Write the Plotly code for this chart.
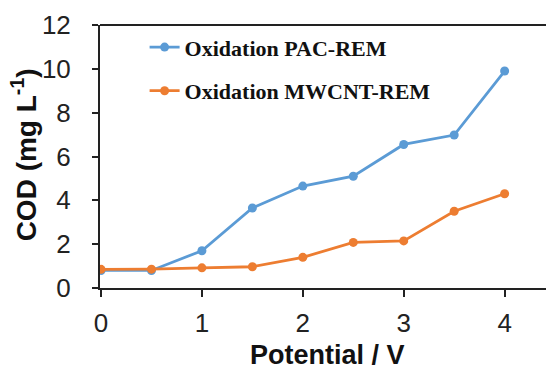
import plotly.graph_objects as go

potential = [0, 0.5, 1, 1.5, 2, 2.5, 3, 3.5, 4]
cod_pac = [0.8, 0.8, 1.7, 3.65, 4.65, 5.1, 6.55, 6.98, 9.9]
cod_mwcnt = [0.85, 0.86, 0.92, 0.97, 1.4, 2.08, 2.15, 3.5, 4.3]
names = ["Oxidation PAC-REM", "Oxidation MWCNT-REM"]
colors = ["#5B9BD5", "#ED7D31"]
x_ticks = [0, 1, 2, 3, 4]
y_ticks = [0, 2, 4, 6, 8, 10, 12]

fig = go.Figure()
for i, (ys, nm, c) in enumerate([(cod_pac, names[0], colors[0]), (cod_mwcnt, names[1], colors[1])]):
    fig.add_trace(go.Scatter(
        x=potential, y=ys, name=nm, mode="lines+markers",
        line=dict(color=c, width=2.8), marker=dict(color=c, size=9),
        legendgroup=f"g{i}",
    ))

axis_col = "#222222"
tick_font = dict(family="Liberation Sans", size=26, color="#222")
fig.update_layout(
    width=546, height=368,
    margin=dict(l=100, r=0, t=25, b=80),
    paper_bgcolor="white", plot_bgcolor="white",
    showlegend=True,
    legend=dict(
        x=0.1, y=0.995, xanchor="left", yanchor="top",
        traceorder="grouped", tracegroupgap=12,
        font=dict(family="Liberation Serif", size=22, color="#111", weight="bold"),
        bgcolor="rgba(0,0,0,0)", itemwidth=30,
    ),
    xaxis=dict(
        range=[-0.01, 4.41], tickvals=x_ticks, ticktext=[str(v) for v in x_ticks],
        showgrid=False, zeroline=False, showline=True, linecolor=axis_col, linewidth=2,
        ticks="outside", ticklen=7, tickwidth=2, tickcolor=axis_col,
        tickfont=tick_font, ticklabelstandoff=4,
    ),
    yaxis=dict(
        range=[0, 12], tickvals=y_ticks,
        showgrid=False, zeroline=False, showline=True, linecolor=axis_col, linewidth=2,
        ticks="outside", ticklen=6, tickwidth=2, tickcolor=axis_col,
        tickfont=tick_font, ticklabelstandoff=16,
    ),
)
fig.add_shape(type="line", xref="paper", yref="paper", x0=0, x1=1, y0=1, y1=1,
              line=dict(color=axis_col, width=2))
fig.add_annotation(text="<b>Potential / V</b>", x=2.24, xref="x", y=-0.255, yref="paper",
                   yanchor="middle", showarrow=False,
                   font=dict(family="Liberation Sans", size=27, color="#111"))
fig.add_annotation(text="<b>COD (mg L<sup>-1</sup>)</b>", x=-0.17, xref="paper", y=0.505, yref="paper",
                   xanchor="center", yanchor="middle", textangle=-90, showarrow=False,
                   font=dict(family="Liberation Sans", size=28, color="#111"))
fig.write_html("out.html")
